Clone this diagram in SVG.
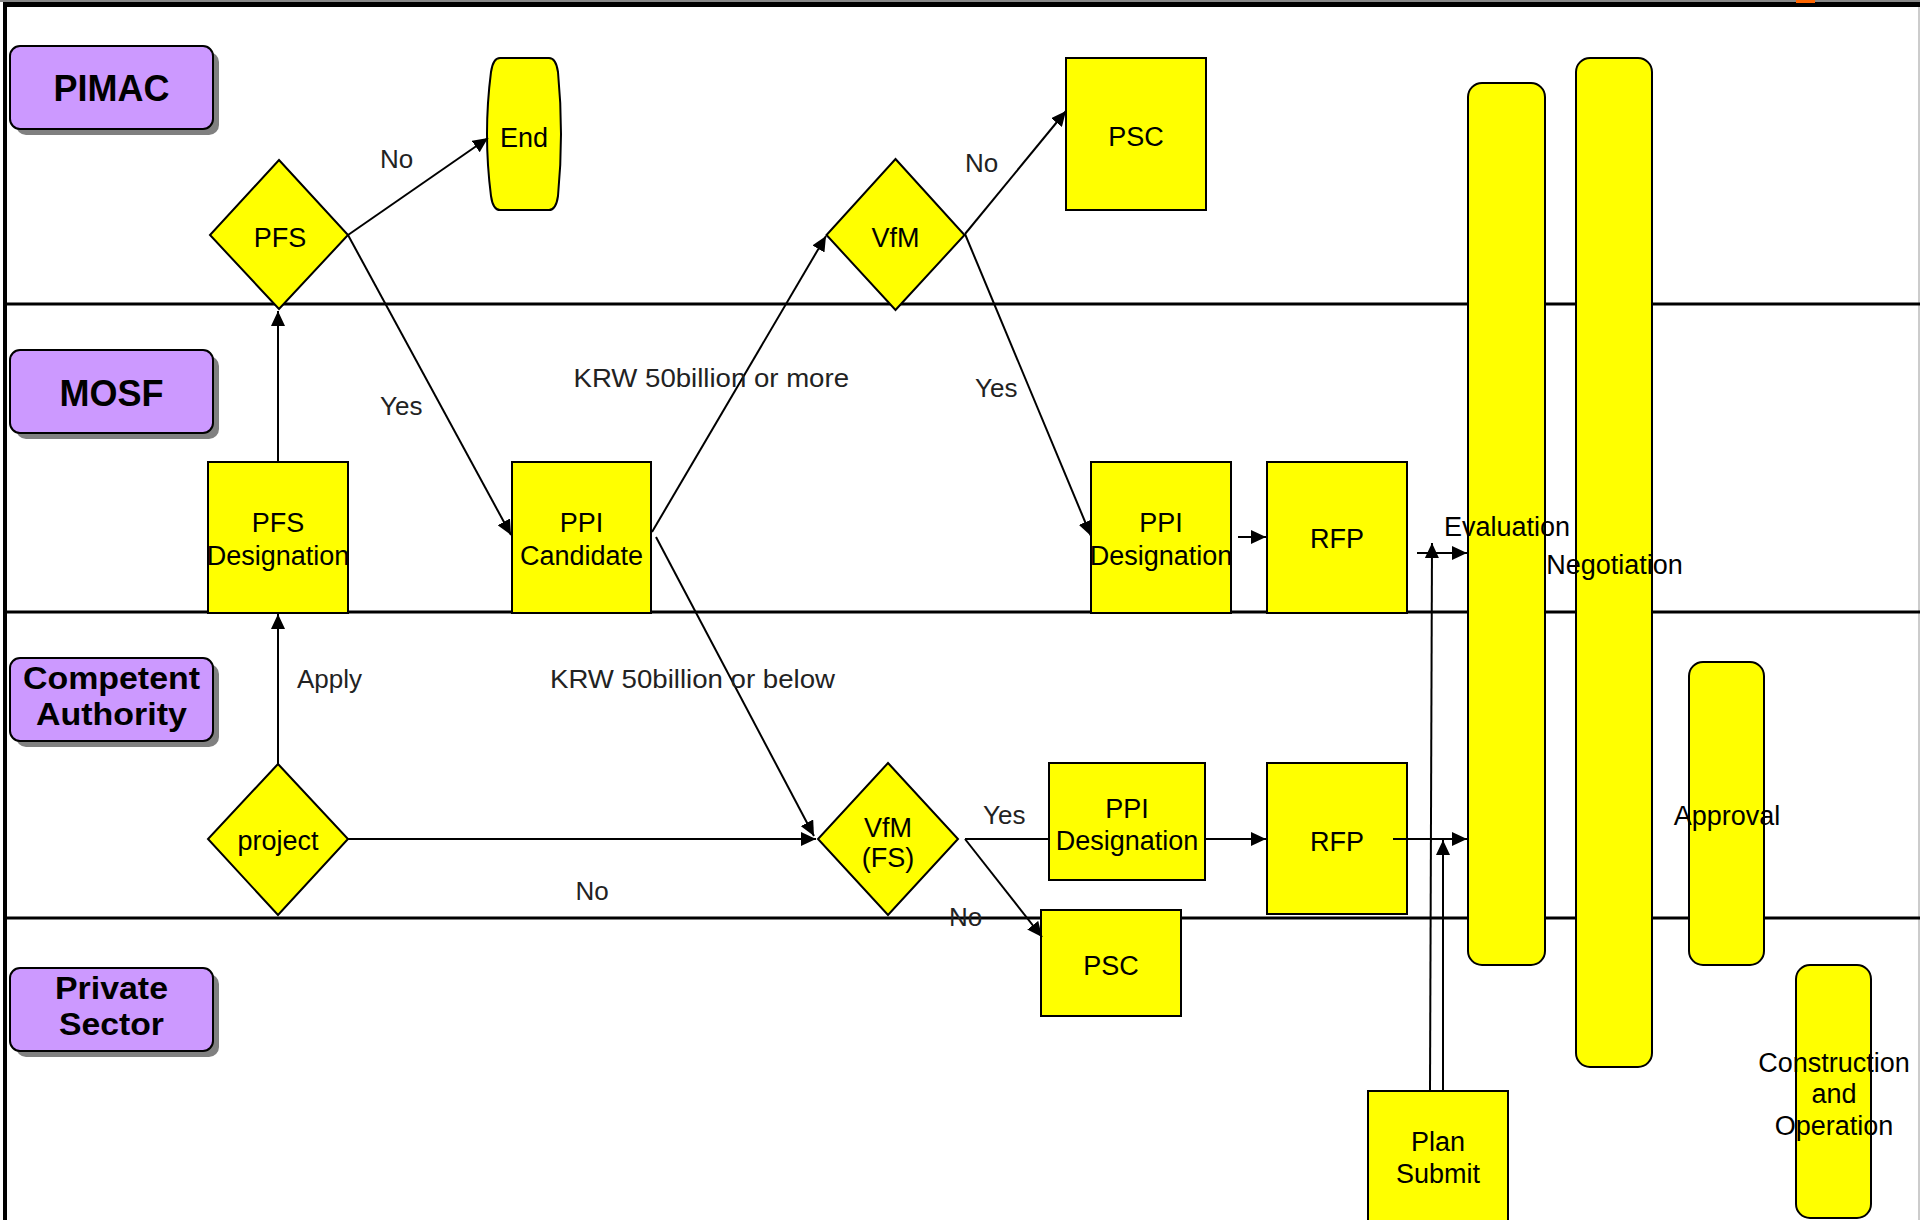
<svg xmlns="http://www.w3.org/2000/svg" width="1920" height="1220" viewBox="0 0 1920 1220">
<style>
.lbl{fill:#CC99FF;stroke:#000;stroke-width:2}
.shd{fill:#808080}
.lt{font-family:"Liberation Sans",Arial,sans-serif;font-weight:bold;fill:#000;text-anchor:middle}
.nd{fill:#FFFF00;stroke:#000;stroke-width:2}
.nt{font-family:"Liberation Sans",Arial,sans-serif;font-size:27px;fill:#000;text-anchor:middle}
.et{font-family:"Liberation Sans",Arial,sans-serif;font-size:26px;fill:#222}
.ln{stroke:#000;stroke-width:3}
.cn{fill:none;stroke:#000;stroke-width:2}
.ar{marker-end:url(#arr)}
</style>
<defs>
<marker id="arr" markerUnits="userSpaceOnUse" markerWidth="16" markerHeight="14" refX="15" refY="7" orient="auto">
<path d="M0,0 L15,7 L0,14 Z" fill="#000"/>
</marker>
</defs>
<rect x="0" y="0" width="1920" height="1220" fill="#fff"/>
<g id="frame">
<rect x="0" y="0" width="1920" height="2" fill="#888"/>
<rect x="4" y="2" width="1916" height="5" fill="#000"/>
<rect x="1796" y="0" width="19" height="3" fill="#FF6600"/>
<rect x="3" y="2" width="4" height="1218" fill="#000"/>
<line x1="1919" y1="7" x2="1919" y2="1220" stroke="#999" stroke-width="1"/>
</g>
<g id="lanes">
<line class="ln" x1="5" y1="304" x2="1920" y2="304"/>
<line class="ln" x1="5" y1="612" x2="1920" y2="612"/>
<line class="ln" x1="5" y1="918" x2="1920" y2="918"/>
</g>
<g id="lane-pimac">
<rect class="shd" x="16" y="52" width="203" height="83" rx="10"/>
<rect class="lbl" x="10" y="46" width="203" height="83" rx="10"/>
<text class="lt" x="111.5" y="101" font-size="36">PIMAC</text>
</g>
<g id="lane-mosf">
<rect class="shd" x="16" y="356" width="203" height="83" rx="10"/>
<rect class="lbl" x="10" y="350" width="203" height="83" rx="10"/>
<text class="lt" x="111.5" y="406" font-size="36">MOSF</text>
</g>
<g id="lane-competent">
<rect class="shd" x="16" y="664" width="203" height="83" rx="10"/>
<rect class="lbl" x="10" y="658" width="203" height="83" rx="10"/>
<text class="lt" x="111.5" y="689" font-size="31" textLength="177" lengthAdjust="spacingAndGlyphs">Competent</text>
<text class="lt" x="111.5" y="725" font-size="31" textLength="151" lengthAdjust="spacingAndGlyphs">Authority</text>
</g>
<g id="lane-private">
<rect class="shd" x="16" y="974" width="203" height="83" rx="10"/>
<rect class="lbl" x="10" y="968" width="203" height="83" rx="10"/>
<text class="lt" x="111.5" y="999" font-size="31" textLength="113" lengthAdjust="spacingAndGlyphs">Private</text>
<text class="lt" x="111.5" y="1035" font-size="31" textLength="105" lengthAdjust="spacingAndGlyphs">Sector</text>
</g>
<g id="nodes">
<g id="n-pfs">
<polygon class="nd" points="279,160 348,235 279,309 210,235"/>
<text class="nt" x="280" y="247">PFS</text>
</g>
<g id="n-end">
<path class="nd" d="M500,58 L549,58 Q556,58 558,72 Q564,134 558,196 Q556,210 549,210 L500,210 Q493,210 491,196 Q483,134 491,72 Q493,58 500,58 Z"/>
<text class="nt" x="524" y="147">End</text>
</g>
<g id="n-vfm">
<polygon class="nd" points="895.5,159 964.5,235 895.5,310 826.5,235"/>
<text class="nt" x="895.5" y="247">VfM</text>
</g>
<g id="n-psc-top">
<rect class="nd" x="1066" y="58" width="140" height="152"/>
<text class="nt" x="1136" y="146">PSC</text>
</g>
<g id="n-pfs-designation">
<rect class="nd" x="208" y="462" width="140" height="151"/>
<text class="nt" x="278" y="532">PFS</text>
<text class="nt" x="278" y="565">Designation</text>
</g>
<g id="n-ppi-candidate">
<rect class="nd" x="512" y="462" width="139" height="151"/>
<text class="nt" x="581.5" y="532">PPI</text>
<text class="nt" x="581.5" y="565">Candidate</text>
</g>
<g id="n-ppi-designation-top">
<rect class="nd" x="1091" y="462" width="140" height="151"/>
<text class="nt" x="1161" y="532">PPI</text>
<text class="nt" x="1161" y="565">Designation</text>
</g>
<g id="n-rfp-top">
<rect class="nd" x="1267" y="462" width="140" height="151"/>
<text class="nt" x="1337" y="548">RFP</text>
</g>
<g id="n-project">
<polygon class="nd" points="278,764 348,839 278,915 208,839"/>
<text class="nt" x="278" y="850">project</text>
</g>
<g id="n-vfm-fs">
<polygon class="nd" points="888,763 958,839 888,915 818,839"/>
<text class="nt" x="888" y="837">VfM</text>
<text class="nt" x="888" y="867">(FS)</text>
</g>
<g id="n-ppi-designation-bottom">
<rect class="nd" x="1049" y="763" width="156" height="117"/>
<text class="nt" x="1127" y="818">PPI</text>
<text class="nt" x="1127" y="850">Designation</text>
</g>
<g id="n-rfp-bottom">
<rect class="nd" x="1267" y="763" width="140" height="151"/>
<text class="nt" x="1337" y="851">RFP</text>
</g>
<g id="n-psc-bottom">
<rect class="nd" x="1041" y="910" width="140" height="106"/>
<text class="nt" x="1111" y="975">PSC</text>
</g>
<g id="n-plan-submit">
<rect class="nd" x="1368" y="1091" width="140" height="134"/>
<text class="nt" x="1438" y="1151">Plan</text>
<text class="nt" x="1438" y="1183">Submit</text>
</g>
<g id="n-evaluation">
<rect class="nd" x="1468" y="83" width="77" height="882" rx="14"/>
<text class="nt" x="1507" y="536">Evaluation</text>
</g>
<g id="n-negotiation">
<rect class="nd" x="1576" y="58" width="76" height="1009" rx="14"/>
<text class="nt" x="1614.5" y="574">Negotiation</text>
</g>
<g id="n-approval">
<rect class="nd" x="1689" y="662" width="75" height="303" rx="14"/>
<text class="nt" x="1727" y="825">Approval</text>
</g>
<g id="n-construction">
<rect class="nd" x="1796" y="965" width="75" height="253" rx="14"/>
<text class="nt" x="1834" y="1072">Construction</text>
<text class="nt" x="1834" y="1103">and</text>
<text class="nt" x="1834" y="1135">Operation</text>
</g>
</g>
<g id="connectors">
<line class="cn ar" x1="348" y1="235" x2="488" y2="138"/>
<line class="cn ar" x1="348" y1="235" x2="511" y2="535"/>
<line class="cn ar" x1="278" y1="462" x2="278" y2="311"/>
<line class="cn ar" x1="278" y1="764" x2="278" y2="614"/>
<line class="cn ar" x1="348" y1="839" x2="816" y2="839"/>
<line class="cn ar" x1="652" y1="532" x2="826" y2="236"/>
<line class="cn ar" x1="656" y1="537" x2="814" y2="836"/>
<line class="cn ar" x1="965" y1="234" x2="1066" y2="111"/>
<line class="cn ar" x1="965" y1="234" x2="1091" y2="536"/>
<line class="cn ar" x1="1238" y1="537" x2="1266" y2="537"/>
<line class="cn ar" x1="1417" y1="553" x2="1467" y2="553"/>
<line class="cn ar" x1="1430" y1="1091" x2="1432" y2="543"/>
<line class="cn" x1="965" y1="839" x2="1049" y2="839"/>
<line class="cn ar" x1="965" y1="839" x2="1042" y2="937"/>
<line class="cn ar" x1="1205" y1="839" x2="1266" y2="839"/>
<line class="cn ar" x1="1393" y1="839" x2="1467" y2="839"/>
<line class="cn ar" x1="1443" y1="1091" x2="1443" y2="840"/>
</g>
<g id="edge-labels">
<text class="et" x="380" y="168">No</text>
<text class="et" x="380" y="415">Yes</text>
<text class="et" x="965" y="172">No</text>
<text class="et" x="975" y="397">Yes</text>
<text class="et" x="573.5" y="387" textLength="275.5" lengthAdjust="spacingAndGlyphs">KRW 50billion or more</text>
<text class="et" x="297" y="688">Apply</text>
<text class="et" x="550" y="688" textLength="285" lengthAdjust="spacingAndGlyphs">KRW 50billion or below</text>
<text class="et" x="575.5" y="900">No</text>
<text class="et" x="983" y="824">Yes</text>
<text class="et" x="949" y="926">No</text>
</g>
</svg>
